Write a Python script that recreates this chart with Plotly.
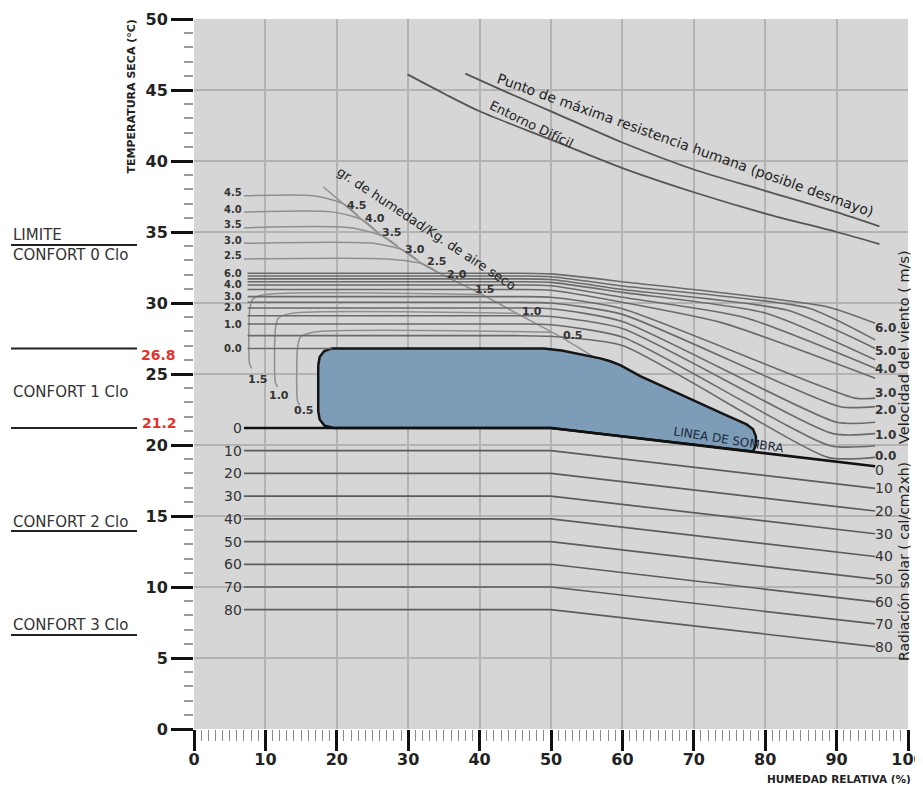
import numpy as np
import plotly.graph_objects as go

FONT = "DejaVu Sans"

# ---------------- data ----------------
rh_ticks = list(range(0, 101, 10))
t_ticks = list(range(0, 51, 5))

# comfort zone outline (RH %, T °C)
comfort_rh = [17.4, 17.6, 18.2, 19.3, 49.0, 51.5, 56.9, 58.3, 59.7, 60.9, 62.5, 66.2, 70.9, 74.5, 77.4,
              78.3, 78.7, 78.7, 78.3, 50.0, 19.6, 18.3, 17.6, 17.4, 17.4]
comfort_t = [25.6, 26.2, 26.6, 26.8, 26.8, 26.65, 26.1, 25.9, 25.62, 25.3, 24.85, 24.0, 22.9, 22.1, 21.45,
             21.1, 20.6, 20.0, 19.55, 21.2, 21.2, 21.35, 21.8, 22.4, 25.6]

# shade line (solar radiation 0)
shade_rh = [7.0, 50.0, 95.4]
shade_t = [21.2, 21.2, 18.5]

# solar radiation lines (cal/cm2xh)
rad_labels = ["10", "20", "30", "40", "50", "60", "70", "80"]
rad_left_t = [19.6, 18.0, 16.4, 14.8, 13.2, 11.6, 10.0, 8.4]
rad_right_t = [16.95, 15.35, 13.75, 12.15, 10.55, 8.95, 7.4, 5.8]
rad_rh = [7.0, 50.0, 95.4]

# wind speed lines (m/s)
wind_labels = ["6.0", "5.5", "5.0", "4.5", "4.0", "3.5", "3.0", "2.5", "2.0", "1.5", "1.0", "0.5"]
wind_left_t = [32.1, 31.9, 31.7, 31.5, 31.27, 30.95, 30.45, 30.05, 29.65, 29.1, 28.52, 27.7]
wind_t60 = [31.5, 31.2, 30.95, 30.75, 30.4, 30.05, 29.6, 29.2, 28.7, 28.2, 27.6, 27.0]
wind_knee_rh = [88.5, 86.0, 83.0, 80.0, 77.0, 74.0, 92.6, 90.5, 90.0, 89.5, 89.1, 88.8]
wind_knee_t = [29.75, 29.65, 29.5, 29.3, 29.0, 28.6, 23.3, 22.7, 21.6, 20.8, 19.95, 19.13]
wind_end_t = [28.57, 27.4, 26.8, 26.0, 25.4, 24.7, 23.3, 22.7, 21.6, 20.8, 19.95, 19.13]
wind_left_lab = ["6.0", "4.0", "3.0", "2.0", "1.0", "0.0"]
wind_left_lab_t = [32.1, 31.27, 30.45, 29.65, 28.52, 26.8]
wind_right_lab = ["6.0", "5.0", "4.0", "3.0", "2.0", "1.0", "0.0"]
wind_right_lab_t = [28.26, 26.62, 25.33, 23.69, 22.46, 20.7, 19.25]

# moisture lines (g/kg dry air)
diag_rh = [18.1, 25.6, 32.6, 36.3, 40.5, 45.2, 51.3, 56.2]
diag_t = [38.19, 35.02, 32.56, 31.62, 30.56, 29.27, 27.63, 26.13]
hum_top_labels = ["4.5", "4.0", "3.5", "3.0", "2.5"]
hum_top_t = [37.55, 36.4, 35.3, 34.2, 33.1]
hum_flat_end_rh = [16.7, 19.5, 21.9, 25.1, 27.0]
hum_join_rh = [21.0, 23.7, 26.5, 29.3, 32.1]
diag_labels = ["4.5", "4.0", "3.5", "3.0", "2.5", "2.0", "1.5", "1.0", "0.5"]
diag_label_rh = [22.8, 25.35, 27.7, 30.95, 33.99, 36.8, 40.76, 47.3, 53.1]
diag_label_t = [36.84, 35.92, 34.96, 33.8, 32.89, 32.04, 30.95, 29.41, 27.69]
hum_low_labels = ["1.5", "1.0", "0.5"]
hum_low_t = [30.6, 29.27, 27.94]
hum_low_drop_rh = [7.8, 11.4, 14.5]
hum_low_bottom_t = [25.4, 24.1, 22.8]
hum_low_lab_rh = [8.9, 11.9, 15.4]
hum_low_lab_t = [24.58, 23.5, 22.4]

# upper limit curves
entorno_rh = [29.9, 35, 40, 50, 60, 70, 80, 90, 96.0]
entorno_t = [46.1, 44.75, 43.5, 41.5, 39.5, 37.8, 36.3, 35.0, 34.15]
punto_rh = [38.0, 44, 50, 60, 70, 80, 90, 96.0]
punto_t = [46.15, 44.8, 43.5, 41.3, 39.4, 37.9, 36.4, 35.4]

# ---------------- figure ----------------
fig = go.Figure()


def add_line(x, y, color, width, shape="linear", smoothing=0.6):
    kw = dict(color=color, width=width, shape=shape)
    if shape == "spline":
        kw["smoothing"] = smoothing
    fig.add_trace(go.Scatter(x=x, y=y, mode="lines", line=kw, hoverinfo="skip", showlegend=False))


# radiation lines
for lt, rt in zip(rad_left_t, rad_right_t):
    add_line(rad_rh, [lt, lt, rt], "#5c5c5c", 1.7)


# moisture lines
def diag_at(rh):
    return float(np.interp(rh, diag_rh, diag_t))


def diag_rh_at(t):
    return float(np.interp(t, diag_t[::-1], diag_rh[::-1]))


for t, fe, j in zip(hum_top_t, hum_flat_end_rh, hum_join_rh):
    add_line([7.0, fe, j, j + 2.0], [t, t, diag_at(j), diag_at(j + 2.0)], "#8f8f8f", 1.5, "spline", 0.7)

for t, d, b in zip(hum_low_t, hum_low_drop_rh, hum_low_bottom_t):
    xr = diag_rh_at(t)
    add_line([xr, d + 2.2, d + 0.4, d, d, d + 0.3],
             [t, t, t - 0.35, t - 1.1, b + 0.3, b], "#8f8f8f", 1.5, "spline", 0.7)

add_line(diag_rh, diag_t, "#8f8f8f", 1.5, "spline", 0.5)

# wind lines
for i in range(len(wind_labels)):
    L = wind_left_t[i]
    xs = [7.5, 45.0, 50.0, 60.0, wind_knee_rh[i], 95.4]
    ys = [L, L, L - 0.05, wind_t60[i], wind_knee_t[i], wind_end_t[i]]
    add_line(xs, ys, "#6a6a6a", 1.6, "spline", 0.6)

# comfort zone
fig.add_trace(go.Scatter(x=comfort_rh, y=comfort_t, mode="lines", fill="toself",
                         fillcolor="#7d9cb7", line=dict(color="#151515", width=2.5),
                         hoverinfo="skip", showlegend=False))
# wind 0.0 left part
add_line([7.5, 19.3], [26.8, 26.8], "#6a6a6a", 1.6)

# shade line
add_line(shade_rh, shade_t, "#111111", 2.6)

# upper limit curves
add_line(entorno_rh, entorno_t, "#555555", 1.8, "spline", 0.8)
add_line(punto_rh, punto_t, "#555555", 1.8, "spline", 0.8)

# ---------------- annotations ----------------
ann = []


def txt(x, y, text, size=12, color="#2a2a2a", xanchor="center", yanchor="middle",
        angle=0, weight="normal", xref="x", yref="y"):
    ann.append(dict(x=x, y=y, text=text, xref=xref, yref=yref, showarrow=False,
                    xanchor=xanchor, yanchor=yanchor, textangle=angle, borderpad=0,
                    font=dict(family=FONT, size=size, color=color, weight=weight)))


LX = 6.9
for lab, t in zip(["0"] + rad_labels, [21.2] + rad_left_t):
    txt(LX, t, lab, 14, "#333", "right")
for lab, t in zip(wind_left_lab, wind_left_lab_t):
    txt(LX, t, lab, 10, "#333", "right", weight="bold")
for lab, t in zip(hum_top_labels, hum_top_t):
    txt(LX, t + 0.22, lab, 10, "#333", "right", weight="bold")
for lab, x, y in zip(diag_labels, diag_label_rh, diag_label_t):
    txt(x, y, lab, 11, "#333", weight="bold")
for lab, x, y in zip(hum_low_labels, hum_low_lab_rh, hum_low_lab_t):
    txt(x, y, lab, 11, "#333", weight="bold")

RX = 95.3
for lab, t in zip(wind_right_lab, wind_right_lab_t):
    txt(RX, t, lab, 12, "#333", "left", weight="bold")
for lab, t in zip(["0"] + rad_labels, [18.24] + rad_right_t):
    txt(RX, t, lab, 14, "#333", "left")

txt(68.8, 41.13, "Punto de máxima resistencia humana (posible desmayo)", 14, "#222", angle=19.7)
txt(47.3, 42.6, "Entorno Difícil", 13, "#222", angle=26)
txt(32.56, 35.25, "gr. de humedad/Kg. de aire seco", 13, "#222", angle=33.5)
txt(74.9, 20.35, "LINEA DE SOMBRA", 12, "#1b2b3b", angle=9)

# screen-pixel helpers (plot area occupies x 194..908, y 19..729 on screen)
PW, PL, PT, PH = 714.0, 194.0, 19.0, 710.0


def px(xp):
    return (xp - PL) / PW


def py(yp):
    return (PT + PH - yp) / PH


txt(px(131), py(96.5), "TEMPERATURA SECA (°C)", 11, "#222", angle=-90, weight="bold",
    xref="paper", yref="paper")
txt(px(839), py(778.5), "HUMEDAD RELATIVA (%)", 10.5, "#222", weight="bold", xref="paper", yref="paper")
txt(px(904), py(347), "Velocidad del viento ( m/s)", 14.5, "#222", angle=-90, xref="paper", yref="paper")
txt(px(904), py(562), "Radiación solar ( cal/cm2xh)", 14, "#222", angle=-90, xref="paper", yref="paper")

# left side comfort labels
txt(px(12), 34.8, "LIMITE", 15, "#333", "left", xref="paper")
txt(px(12), 33.4, "CONFORT 0 Clo", 15, "#333", "left", xref="paper")
txt(px(12), 23.7, "CONFORT 1 Clo", 15, "#333", "left", xref="paper")
txt(px(12), 14.6, "CONFORT 2 Clo", 15, "#333", "left", xref="paper")
txt(px(12), 7.3, "CONFORT 3 Clo", 15, "#333", "left", xref="paper")
txt(px(177), 26.34, "26.8", 14, "#e3312b", "right", weight="bold", xref="paper")
txt(px(178), 21.55, "21.2", 14, "#e3312b", "right", weight="bold", xref="paper")

shapes = []
for yv in [26.8, 21.2, 34.08, 13.94, 6.62]:
    shapes.append(dict(type="line", xref="paper", yref="y", x0=px(11), x1=px(137), y0=yv, y1=yv,
                       line=dict(color="#222", width=2)))

# page body has an 8px margin: figure is 907x776, placed at (8, 8)
fig.update_layout(
    width=907, height=776, autosize=False,
    margin=dict(l=186, r=7, t=11, b=55, autoexpand=False),
    paper_bgcolor="white", plot_bgcolor="#d6d6d6",
    annotations=ann, shapes=shapes, showlegend=False,
    xaxis=dict(range=[0, 100], tickvals=rh_ticks, showgrid=True, gridcolor="#b3b3b3",
               gridwidth=1.5, zeroline=False, showline=False, ticks="outside", ticklen=21,
               tickwidth=3, tickcolor="#111", ticklabeloverflow="allow", automargin=False,
               ticklabelstandoff=-5,
               tickfont=dict(family=FONT, size=16, color="#222", weight="bold"),
               minor=dict(dtick=1, tick0=0, ticks="outside", ticklen=11, tickwidth=1.2,
                          tickcolor="#8a8a8a", showgrid=False),
               fixedrange=True),
    yaxis=dict(range=[0, 50], tickvals=t_ticks, showgrid=True, gridcolor="#b3b3b3",
               gridwidth=1.5, zeroline=False, showline=False, ticks="outside", ticklen=22,
               tickwidth=3, tickcolor="#111", automargin=False,
               tickfont=dict(family=FONT, size=16, color="#222", weight="bold"),
               minor=dict(dtick=1, tick0=0, ticks="outside", ticklen=9, tickwidth=2,
                          tickcolor="#9a9a9a", showgrid=False),
               fixedrange=True),
)

fig.write_html("out.html")
